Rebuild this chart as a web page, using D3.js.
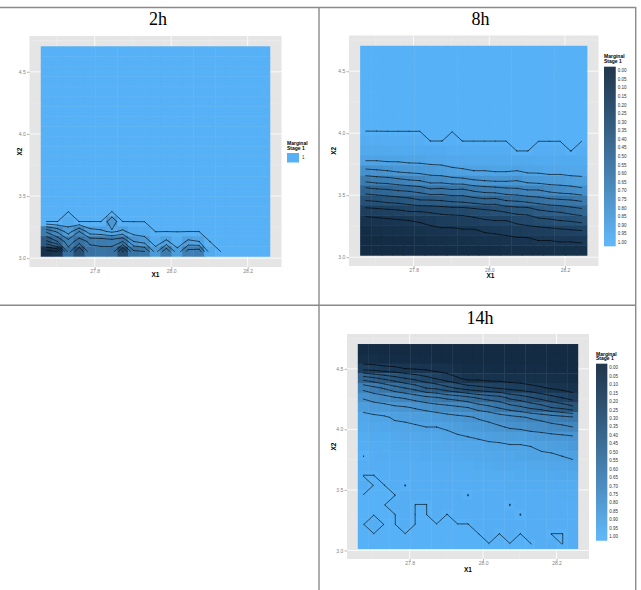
<!DOCTYPE html>
<html>
<head>
<meta charset="utf-8" />
<title>Marginal Stage 1</title>
<script src="https://d3js.org/d3.v7.min.js"></script>
<style>
  body { margin: 0; background: #fff; }
  text { font-family: "Liberation Sans", Arial, sans-serif; }
</style>
</head>
<body>
<svg id="chart"></svg>
<script>
var width = 641, height = 590;

// grid of the surface: X1 column centres, X2 row centres (top row first)
var x1Grid = [27.674, 27.703, 27.731, 27.760, 27.788, 27.817, 27.845, 27.874, 27.902, 27.931, 27.959,
              27.987, 28.016, 28.044, 28.073, 28.101, 28.130, 28.158, 28.187, 28.215, 28.244];
var x2Grid = [4.663, 4.582, 4.502, 4.421, 4.341, 4.261, 4.180, 4.100, 4.019, 3.939, 3.858,
              3.778, 3.698, 3.617, 3.537, 3.456, 3.376, 3.295, 3.215, 3.135, 3.054];

var x1Ticks = [27.8, 28.0, 28.2];
var x2Ticks = [3.0, 3.5, 4.0, 4.5];
var x1Minor = [27.7, 27.9, 28.1];
var x2Minor = [3.25, 3.75, 4.25, 4.75];

// contour levels in percent (99.9 stands for the level 1)
var levels = [10, 20, 30, 40, 50, 60, 70, 80, 90, 99.9];
var legendLabels = ["0.00", "0.05", "0.10", "0.15", "0.20", "0.25", "0.30", "0.35", "0.40", "0.45", "0.50",
                    "0.55", "0.60", "0.65", "0.70", "0.75", "0.80", "0.85", "0.90", "0.95", "1.00"];

// Marginal Stage 1, in percent
var grid2h = [
  [100,100,100,100,100,100,100,100,100,100,100,100,100,100,100,100,100,100,100,100,100],
  [100,100,100,100,100,100,100,100,100,100,100,100,100,100,100,100,100,100,100,100,100],
  [100,100,100,100,100,100,100,100,100,100,100,100,100,100,100,100,100,100,100,100,100],
  [100,100,100,100,100,100,100,100,100,100,100,100,100,100,100,100,100,100,100,100,100],
  [100,100,100,100,100,100,100,100,100,100,100,100,100,100,100,100,100,100,100,100,100],
  [100,100,100,100,100,100,100,100,100,100,100,100,100,100,100,100,100,100,100,100,100],
  [100,100,100,100,100,100,100,100,100,100,100,100,100,100,100,100,100,100,100,100,100],
  [100,100,100,100,100,100,100,100,100,100,100,100,100,100,100,100,100,100,100,100,100],
  [100,100,100,100,100,100,100,100,100,100,100,100,100,100,100,100,100,100,100,100,100],
  [100,100,100,100,100,100,100,100,100,100,100,100,100,100,100,100,100,100,100,100,100],
  [100,100,100,100,100,100,100,100,100,100,100,100,100,100,100,100,100,100,100,100,100],
  [100,100,100,100,100,100,100,100,100,100,100,100,100,100,100,100,100,100,100,100,100],
  [100,100,100,100,100,100,100,100,100,100,100,100,100,100,100,100,100,100,100,100,100],
  [100,100,100,100,100,100,100,100,100,100,100,100,100,100,100,100,100,100,100,100,100],
  [100,100,100,100,100,100,100,100,100,100,100,100,100,100,100,100,100,100,100,100,100],
  [100,100,100,100,100,100,100,100,100,100,100,100,100,100,100,100,100,100,100,100,100],
  [100,100,100,100,100,100,100,100,100,100,100,100,100,100,100,100,100,100,100,100,100],
  [100,100, 96,100,100,100, 82,100,100,100,100,100,100,100,100,100,100,100,100,100,100],
  [ 62, 72, 85, 70, 86, 88, 92, 88, 95, 96,100,100,100,100,100,100,100,100,100,100,100],
  [ 38, 50, 66, 55, 62, 62, 64, 60, 80, 84, 96, 88, 97, 88, 90,100,100,100,100,100,100],
  [  6, 10, 55, 30, 56, 58, 56, 28, 58, 60, 84, 62, 86, 66, 64, 96,100,100,100,100,100]
];

var grid8h = [
  [100,100,100,100,100,100,100,100,100,100,100,100,100,100,100,100,100,100,100,100,100],
  [100,100,100,100,100,100,100,100,100,100,100,100,100,100,100,100,100,100,100,100,100],
  [100,100,100,100,100,100,100,100,100,100,100,100,100,100,100,100,100,100,100,100,100],
  [100,100,100,100,100,100,100,100,100,100,100,100,100,100,100,100,100,100,100,100,100],
  [100,100,100,100,100,100,100,100,100,100,100,100,100,100,100,100,100,100,100,100,100],
  [100,100,100,100,100,100,100,100,100,100,100,100,100,100,100,100,100,100,100,100,100],
  [100,100,100,100,100,100,100,100,100,100,100,100,100,100,100,100,100,100,100,100,100],
  [100,100,100,100,100,100,100,100,100,100,100,100,100,100,100,100,100,100,100,100,100],
  [100,100,100,100,100,100,100,100,100,100,100,100,100,100,100,100,100,100,100,100,100],
  [ 97, 97, 98, 98, 98, 98,100,100, 99,100,100,100,100,100,100,100,100,100,100,100,100],
  [ 95, 95, 95, 96, 96, 96, 96, 96, 97, 97, 97, 97, 97, 97,100,100, 98, 98, 98,100, 98],
  [ 90, 90, 91, 91, 92, 92, 93, 93, 94, 94, 95, 95, 95, 95, 95, 95, 96, 96, 96, 96, 96],
  [ 78, 79, 80, 82, 83, 84, 85, 86, 88, 89, 90, 90, 91, 91, 90, 92, 92, 93, 93, 94, 94],
  [ 62, 64, 65, 67, 69, 70, 74, 74, 76, 77, 79, 80, 81, 81, 80, 83, 84, 85, 85, 86, 87],
  [ 45, 47, 48, 50, 51, 53, 57, 56, 58, 57, 61, 63, 64, 66, 67, 69, 69, 72, 74, 75, 77],
  [ 30, 31, 33, 34, 36, 39, 39, 40, 42, 43, 45, 47, 46, 50, 51, 53, 55, 57, 58, 59, 61],
  [ 16, 17, 18, 19, 21, 21, 22, 23, 24, 24, 26, 28, 30, 32, 34, 34, 39, 41, 42, 45, 47],
  [  6,  7,  8,  9, 10, 11, 13, 15, 15, 16, 17, 19, 20, 20, 23, 25, 27, 28, 30, 31, 33],
  [  2,  3,  4,  4,  5,  6,  7,  8,  8,  9,  9, 11, 12, 13, 14, 15, 16, 17, 18, 19, 20],
  [  0,  0,  1,  1,  2,  2,  3,  3,  4,  4,  5,  6,  6,  7,  8,  8, 10, 10, 11, 11, 12],
  [  0,  0,  0,  0,  1,  1,  1,  1,  2,  2,  2,  2,  2,  3,  3,  3,  3,  3,  4,  4,  4]
];

var grid14h = [
  [  0,  0,  0,  0,  0,  0,  0,  0,  0,  0,  0,  0,  0,  0,  0,  0,  0,  0,  0,  0,  0],
  [  3,  3,  2,  2,  1,  1,  1,  0,  0,  0,  0,  0,  0,  0,  0,  0,  0,  0,  0,  0,  0],
  [ 16, 15, 13, 12, 10,  9,  8,  6,  5,  3,  2,  2,  2,  2,  1,  1,  1,  1,  0,  0,  0],
  [ 46, 42, 38, 34, 30, 27, 23, 19, 15, 11,  7,  7,  6,  6,  5,  5,  4,  4,  3,  3,  2],
  [ 67, 63, 59, 54, 50, 46, 40, 38, 33, 29, 25, 23, 21, 19, 17, 15, 13, 11,  9,  7,  5],
  [ 79, 76, 74, 71, 69, 66, 63, 61, 58, 56, 53, 49, 46, 44, 38, 35, 31, 27, 23, 20, 16],
  [ 87, 85, 84, 82, 81, 79, 77, 75, 74, 72, 70, 66, 63, 59, 55, 52, 48, 45, 40, 37, 33],
  [ 93, 92, 91, 89, 88, 87, 86, 85, 83, 82, 81, 79, 78, 75, 73, 71, 69, 67, 65, 63, 61],
  [ 95, 94, 93, 92, 92, 91, 90, 90, 89, 87, 85, 84, 82, 81, 79, 78, 76, 75, 73, 72, 70],
  [ 97, 96, 96, 95, 94, 94, 93, 93, 92, 91, 90, 89, 88, 87, 86, 86, 85, 84, 83, 82, 81],
  [ 98, 97, 97, 96, 96, 96, 95, 95, 94, 94, 93, 93, 92, 92, 91, 91, 90, 89, 88, 87, 85],
  [100, 98, 97, 97, 97, 97, 96, 96, 96, 96, 95, 94, 94, 93, 93, 92, 91, 91, 91, 90, 89],
  [ 98, 98, 98, 98, 98, 98, 98, 97, 97, 97, 97, 96, 96, 95, 95, 95, 94, 94, 93, 93, 92],
  [100,100, 98, 98, 98, 98, 98, 98, 98, 98, 98, 97, 97, 97, 97, 96, 96, 96, 96, 95, 95],
  [ 98,100,100, 98,100, 98, 98, 98, 98, 98, 98, 98, 98, 98, 97, 97, 97, 97, 97, 97, 97],
  [100,100,100,100, 98, 98, 98, 98, 98, 98,100, 98, 98, 98, 98, 98, 98, 98, 98, 97, 97],
  [100,100,100, 98, 98,100,100, 98, 98, 98, 98, 98, 98, 98,100, 98, 98, 98, 98, 98, 98],
  [100,100,100,100, 98,100,100, 98,100, 98, 98, 98, 98, 98, 98,100, 98, 98, 98, 98, 98],
  [100, 98,100,100, 98,100,100,100,100,100,100, 98, 98, 98, 98, 98, 98, 98, 98, 98, 98],
  [100,100,100,100,100,100,100,100,100,100,100,100, 98,100, 98,100, 98, 98,100,100, 98],
  [100,100,100,100,100,100,100,100,100,100,100,100,100,100,100,100,100, 98, 98,100, 98]
];

var svg = d3.select("#chart").attr("width", width).attr("height", height);

var colour = d3.scaleLinear()
  .domain([0, 100])
  .range(["#132B43", "#56B1F7"])
  .interpolate(d3.interpolateLab)
  .clamp(true);

var nCols = x1Grid.length, nRows = x2Grid.length;
var dx = x1Grid[1] - x1Grid[0];
var dy = x2Grid[0] - x2Grid[1];
var x1Lo = x1Grid[0] - dx / 2, x1Hi = x1Grid[nCols - 1] + dx / 2;
var x2Lo = x2Grid[nRows - 1] - dy / 2, x2Hi = x2Grid[0] + dy / 2;
var padX = (x1Hi - x1Lo) * 0.05, padY = (x2Hi - x2Lo) * 0.05;

// grid index -> data value
var colToX1 = d3.scaleLinear().domain([0, nCols - 1]).range([x1Grid[0], x1Grid[nCols - 1]]);
var rowToX2 = d3.scaleLinear().domain([0, nRows - 1]).range([x2Grid[0], x2Grid[nRows - 1]]);

// marching squares, open segments like ggplot's stat_contour
function segments(grid, level) {
  var out = [];
  function t(v0, v1) { return (level - v0) / (v1 - v0); }
  for (var j = 0; j < grid.length - 1; j++) {
    for (var i = 0; i < grid[j].length - 1; i++) {
      var a = grid[j][i], b = grid[j][i + 1], c = grid[j + 1][i + 1], d = grid[j + 1][i];
      var A = a >= level, B = b >= level, C = c >= level, D = d >= level;
      var top = A !== B ? [i + t(a, b), j] : null;
      var right = B !== C ? [i + 1, j + t(b, c)] : null;
      var bottom = D !== C ? [i + t(d, c), j + 1] : null;
      var left = A !== D ? [i, j + t(a, d)] : null;
      var e = [top, right, bottom, left].filter(Boolean);
      if (e.length === 2) out.push(e);
      else if (e.length === 4) {
        var mid = (a + b + c + d) / 4 >= level;
        if (mid === A) { out.push([top, right]); out.push([bottom, left]); }
        else { out.push([top, left]); out.push([right, bottom]); }
      }
    }
  }
  return out;
}

var panels = [
  { title: "2h", grid: grid2h, left: 29.5, right: 281.5, top: 36, bottom: 267,
    titleX: 158, titleY: 25, xLabX: 155.5, xLabY: 276.5, yLabX: 19.5,
    legend: "key", legX: 287, legY: 145 },
  { title: "8h", grid: grid8h, left: 349, right: 598.5, top: 35.5, bottom: 266,
    titleX: 480.5, titleY: 25, xLabX: 490.5, xLabY: 278, yLabX: 333.5,
    legend: "bar", legX: 604, legY: 58.4, barW: 11.7, lab0: 70.7, lab1: 242.3 },
  { title: "14h", grid: grid14h, left: 347, right: 589, top: 334, bottom: 559,
    titleX: 480, titleY: 324, xLabX: 468, xLabY: 572, yLabX: 333.5,
    legend: "bar", legX: 596, legY: 355.7, barW: 11.3, lab0: 367.7, lab1: 536.7 }
];

// table rules
var rules = svg.append("g").attr("stroke", "#8a8a8a").attr("stroke-width", 1.4);
rules.append("line").attr("x1", 0).attr("x2", 636).attr("y1", 7.5).attr("y2", 7.5);
rules.append("line").attr("x1", 0).attr("x2", 636).attr("y1", 305.3).attr("y2", 305.3);
rules.append("line").attr("x1", 319).attr("x2", 319).attr("y1", 7).attr("y2", height);
rules.append("line").attr("x1", 635.7).attr("x2", 635.7).attr("y1", 7).attr("y2", height);

panels.forEach(function(p) {
  var g = svg.append("g");
  var xs = d3.scaleLinear().domain([x1Lo - padX, x1Hi + padX]).range([p.left, p.right]);
  var ys = d3.scaleLinear().domain([x2Lo - padY, x2Hi + padY]).range([p.bottom, p.top]);

  g.append("text")
    .attr("x", p.titleX).attr("y", p.titleY)
    .attr("text-anchor", "middle")
    .style("font-family", "'Liberation Serif', 'Times New Roman', serif")
    .style("font-size", "18px")
    .text(p.title);

  g.append("rect")
    .attr("x", p.left).attr("y", p.top)
    .attr("width", p.right - p.left).attr("height", p.bottom - p.top)
    .attr("fill", "#E5E5E5");

  g.selectAll(".minx").data(x1Minor).enter().append("line")
    .attr("x1", function(d) { return xs(d); }).attr("x2", function(d) { return xs(d); })
    .attr("y1", p.top).attr("y2", p.bottom)
    .attr("stroke", "#F2F2F2").attr("stroke-width", 0.4);
  g.selectAll(".miny").data(x2Minor).enter().append("line")
    .attr("y1", function(d) { return ys(d); }).attr("y2", function(d) { return ys(d); })
    .attr("x1", p.left).attr("x2", p.right)
    .attr("stroke", "#F2F2F2").attr("stroke-width", 0.4);
  g.selectAll(".majx").data(x1Ticks).enter().append("line")
    .attr("x1", function(d) { return xs(d); }).attr("x2", function(d) { return xs(d); })
    .attr("y1", p.top).attr("y2", p.bottom)
    .attr("stroke", "#fff").attr("stroke-width", 0.8);
  g.selectAll(".majy").data(x2Ticks).enter().append("line")
    .attr("y1", function(d) { return ys(d); }).attr("y2", function(d) { return ys(d); })
    .attr("x1", p.left).attr("x2", p.right)
    .attr("stroke", "#fff").attr("stroke-width", 0.8);

  // tiles
  var cells = [];
  p.grid.forEach(function(row, j) {
    row.forEach(function(v, i) { cells.push({ x1: x1Grid[i], x2: x2Grid[j], v: v }); });
  });
  g.append("g").selectAll("rect").data(cells).enter().append("rect")
    .attr("x", function(d) { return xs(d.x1 - dx / 2) - 0.2; })
    .attr("y", function(d) { return ys(d.x2 + dy / 2) - 0.2; })
    .attr("width", function(d) { return xs(d.x1 + dx / 2) - xs(d.x1 - dx / 2) + 0.4; })
    .attr("height", function(d) { return ys(d.x2 - dy / 2) - ys(d.x2 + dy / 2) + 0.4; })
    .attr("fill", function(d) { return colour(d.v); });

  // contour lines
  var path = d3.path();
  levels.forEach(function(level) {
    segments(p.grid, level).forEach(function(s) {
      path.moveTo(xs(colToX1(s[0][0])), ys(rowToX2(s[0][1])));
      path.lineTo(xs(colToX1(s[1][0])), ys(rowToX2(s[1][1])));
    });
  });
  g.append("path")
    .attr("d", path.toString())
    .attr("fill", "none")
    .attr("stroke", "#000")
    .attr("stroke-opacity", 0.8)
    .attr("stroke-width", 0.75)
    .attr("stroke-linecap", "round")
    .attr("stroke-linejoin", "round");

  // axes
  var xAxis = g.append("g")
    .attr("transform", "translate(0," + p.bottom + ")")
    .call(d3.axisBottom(xs).tickValues(x1Ticks).tickFormat(d3.format(".1f")).tickSize(2.5).tickPadding(0.4));
  var yAxis = g.append("g")
    .attr("transform", "translate(" + p.left + ",0)")
    .call(d3.axisLeft(ys).tickValues(x2Ticks).tickFormat(d3.format(".1f")).tickSize(2.5).tickPadding(1.2));
  [xAxis, yAxis].forEach(function(ax) {
    ax.select(".domain").remove();
    ax.selectAll("line").attr("stroke", "#7F7F7F").attr("stroke-width", 0.6);
    ax.selectAll("text").attr("fill", "#7F7F7F").style("font-size", "5px");
  });

  g.append("text")
    .attr("x", p.xLabX).attr("y", p.xLabY)
    .attr("text-anchor", "middle")
    .style("font-size", "6.5px").style("font-weight", "bold")
    .text("X1");
  g.append("text")
    .attr("transform", "translate(" + p.yLabX + "," + ((p.top + p.bottom) / 2) + ") rotate(-90)")
    .attr("text-anchor", "middle").attr("dy", "0.35em")
    .style("font-size", "6.5px").style("font-weight", "bold")
    .text("X2");

  // legend
  var lg = g.append("g");
  lg.append("text").attr("x", p.legX).attr("y", p.legY)
    .style("font-size", "5px").style("font-weight", "bold").text("Marginal");
  lg.append("text").attr("x", p.legX).attr("y", p.legY + 4.6)
    .style("font-size", "5px").style("font-weight", "bold").text("Stage 1");

  if (p.legend === "key") {
    lg.append("rect").attr("x", p.legX).attr("y", p.legY + 8)
      .attr("width", 12).attr("height", 9.5).attr("fill", colour(100));
    lg.append("text").attr("x", p.legX + 15).attr("y", p.legY + 12.75).attr("dy", "0.35em")
      .style("font-size", "4.5px").attr("fill", "#333").text("1");
  } else {
    var ly = d3.scaleLinear().domain([0, legendLabels.length - 1]).range([p.lab0, p.lab1]);
    var lv = d3.scaleLinear().domain([p.lab0, p.lab1]).range([0, 100]);
    var y0 = p.lab0 - 4, y1 = p.lab1 + 4;
    var slices = d3.range(y0, y1, 1);
    lg.append("g").selectAll("rect").data(slices).enter().append("rect")
      .attr("x", p.legX).attr("y", function(d) { return d; })
      .attr("width", p.barW).attr("height", function(d) { return Math.min(1.2, y1 - d); })
      .attr("fill", function(d) { return colour(lv(d + 0.5)); });
    lg.append("g").selectAll("text").data(legendLabels).enter().append("text")
      .attr("x", p.legX + p.barW + 2).attr("y", function(d, i) { return ly(i); })
      .attr("dy", "0.35em")
      .style("font-size", "4.5px").attr("fill", "#333")
      .text(function(d) { return d; });
  }
});
</script>
</body>
</html>
